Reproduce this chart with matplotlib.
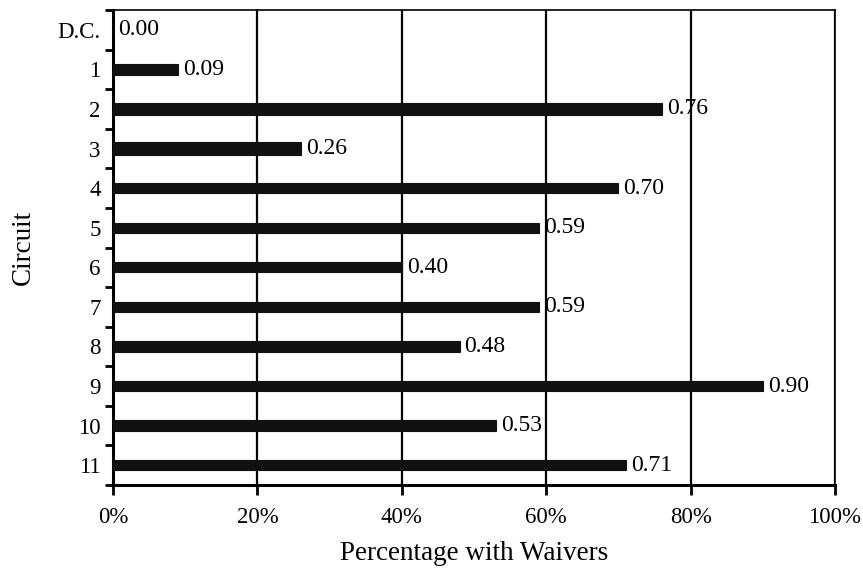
import numpy as np
import matplotlib.pyplot as plt
from matplotlib.ticker import FixedLocator, PercentFormatter

plt.rcParams['font.family'] = ['Liberation Serif', 'DejaVu Serif']

# data
circuits = ['D.C.', '1', '2', '3', '4', '5', '6', '7', '8', '9', '10', '11']
waivers = [0.00, 0.09, 0.76, 0.26, 0.70, 0.59, 0.40, 0.59, 0.48, 0.90, 0.53, 0.71]
bar_heights = [0.26, 0.26, 0.32, 0.32, 0.26, 0.26, 0.26, 0.26, 0.26, 0.26, 0.26, 0.26]

fig = plt.figure(figsize=(8.63, 5.70), dpi=100)
ax = fig.add_axes([113 / 863, 85 / 570, 722 / 863, 475 / 570])

y = np.arange(len(circuits))
ax.barh(y, waivers, height=bar_heights, color='#111111', edgecolor='#111111',
        linewidth=0.8, zorder=3)

for yi, v in zip(y, waivers):
    ax.text(v + 0.007, yi, f'{v:.2f}', va='center', ha='left', fontsize=17,
            color='black', zorder=4)

ax.set_xlim(0, 1)
ax.set_ylim(len(circuits) - 0.5, -0.5)
ax.set_xticks(np.arange(0, 1.01, 0.2))
ax.xaxis.set_major_formatter(PercentFormatter(1.0, decimals=0))
ax.set_yticks(y)
ax.set_yticklabels(circuits)
ax.yaxis.set_minor_locator(FixedLocator(np.arange(-0.5, len(circuits), 1.0)))

ax.tick_params(axis='y', which='major', length=0, pad=9, labelsize=16.5)
ax.tick_params(axis='y', which='minor', length=6, width=2, direction='out')
ax.tick_params(axis='x', which='major', length=7, width=2, direction='out',
               pad=9, labelsize=16.5)

ax.grid(axis='x', color='black', linewidth=1.6, zorder=1)
for side in ['left', 'bottom']:
    ax.spines[side].set_linewidth(2.2)
for side in ['top', 'right']:
    ax.spines[side].set_linewidth(1.2)

ax.set_ylabel('Circuit', fontsize=19.5)
ax.set_xlabel('Percentage with Waivers', fontsize=19.5)
ax.yaxis.set_label_coords(-0.107, 0.5)
ax.xaxis.set_label_coords(0.5, -0.117)

fig.savefig('out.png', dpi=100)
